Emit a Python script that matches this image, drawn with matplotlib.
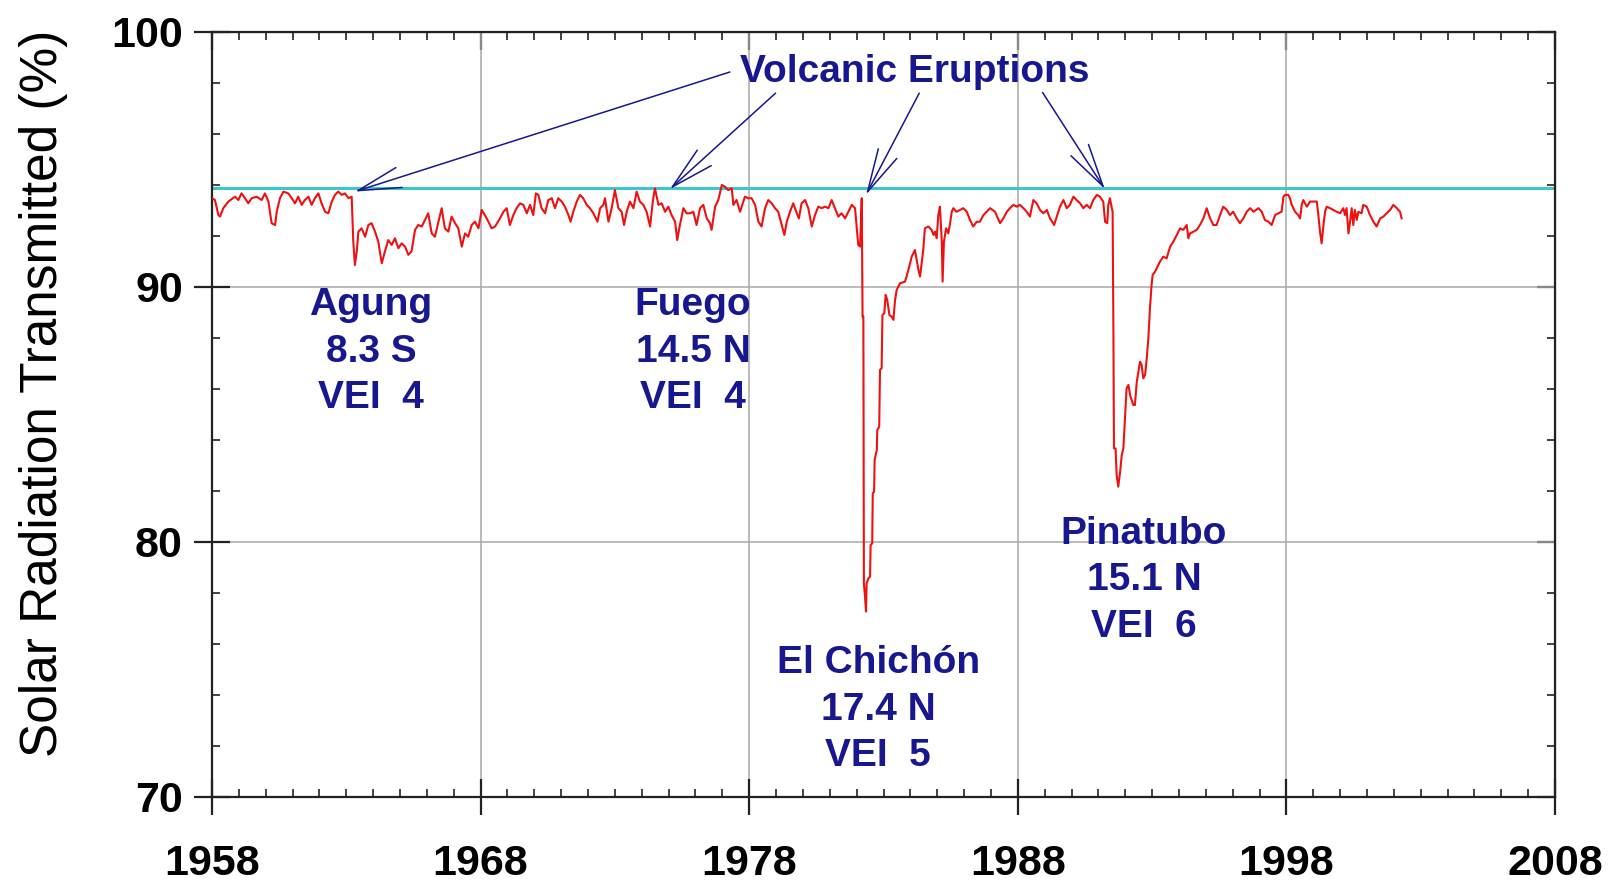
import numpy as np
import matplotlib
matplotlib.use("Agg")
import matplotlib.pyplot as plt
from matplotlib.ticker import MultipleLocator

plt.rcParams['font.family'] = ['Liberation Sans', 'DejaVu Sans']

# transmission record (%) in pieces
yr_1958 = [1958.01, 1958.11, 1958.24, 1958.30, 1958.42, 1958.61, 1958.86, 1958.98, 1959.10, 1959.23,
           1959.35, 1959.48, 1959.66, 1959.85, 1959.97, 1960.10, 1960.22, 1960.35, 1960.41, 1960.53,
           1960.66, 1960.84, 1960.97, 1961.09, 1961.21, 1961.34, 1961.46, 1961.59, 1961.71, 1961.83,
           1961.96, 1962.08, 1962.21, 1962.33, 1962.46, 1962.58, 1962.70, 1962.83, 1962.95, 1963.08,
           1963.20]
tr_1958 = [93.48, 93.41, 92.82, 92.76, 93.09, 93.35, 93.54, 93.41, 93.67, 93.48,
           93.28, 93.48, 93.54, 93.41, 93.67, 93.35, 92.50, 92.43, 92.95, 93.48,
           93.74, 93.67, 93.48, 93.28, 93.54, 93.22, 93.41, 93.54, 93.22, 93.48,
           93.67, 93.28, 92.95, 92.89, 93.35, 93.61, 93.74, 93.61, 93.67, 93.48,
           93.54]

yr_agung = [1963.26, 1963.32, 1963.39, 1963.45, 1963.57, 1963.70, 1963.82, 1963.94, 1964.07, 1964.19,
            1964.32, 1964.44, 1964.56, 1964.69, 1964.81, 1964.94, 1965.06, 1965.19, 1965.31, 1965.43,
            1965.56, 1965.68, 1965.81, 1965.93, 1966.05, 1966.18, 1966.30, 1966.43, 1966.55, 1966.67,
            1966.80, 1966.92, 1967.05, 1967.17, 1967.30, 1967.42, 1967.54, 1967.67, 1967.79, 1967.92]
tr_agung = [91.78, 90.86, 91.40, 92.17, 92.30, 91.97, 92.43, 92.50, 92.17, 91.78,
            90.93, 91.40, 91.84, 91.65, 91.91, 91.52, 91.71, 91.58, 91.26, 91.40,
            92.24, 92.43, 92.37, 92.63, 92.89, 92.10, 91.97, 92.56, 93.09, 92.30,
            92.17, 92.76, 92.50, 92.30, 91.58, 92.10, 91.97, 92.43, 92.56, 92.30]

yr_1968 = [1968.04, 1968.16, 1968.29, 1968.41, 1968.54, 1968.72, 1968.85, 1968.97, 1969.09, 1969.22,
           1969.34, 1969.47, 1969.59, 1969.72, 1969.84, 1969.96, 1970.06, 1970.15, 1970.27, 1970.40,
           1970.52, 1970.65, 1970.77, 1970.89, 1971.02, 1971.14, 1971.27, 1971.35, 1971.45, 1971.58,
           1971.70, 1971.82, 1971.95, 1972.07, 1972.20, 1972.35, 1972.45, 1972.57, 1972.63, 1972.76,
           1972.88, 1973.00, 1973.13, 1973.25, 1973.34, 1973.44, 1973.56, 1973.69, 1973.81, 1973.93,
           1974.06, 1974.18, 1974.31, 1974.41, 1974.49, 1974.62, 1974.74, 1974.87, 1974.99, 1975.11,
           1975.24, 1975.32, 1975.42, 1975.55, 1975.67, 1975.80, 1975.92, 1976.04, 1976.17, 1976.29,
           1976.42, 1976.54, 1976.60, 1976.73, 1976.85, 1976.98, 1977.10, 1977.22, 1977.35]
tr_1968 = [93.02, 92.82, 92.56, 92.30, 92.37, 92.69, 92.95, 93.09, 92.43, 92.82,
           93.09, 93.28, 93.22, 92.89, 93.22, 92.82, 93.67, 93.61, 93.09, 92.89,
           93.41, 93.48, 93.09, 93.48, 93.35, 93.15, 92.82, 92.56, 92.95, 93.35,
           93.61, 93.48, 93.22, 93.09, 92.89, 92.56, 93.09, 93.22, 93.48, 92.56,
           93.09, 93.80, 93.09, 92.95, 92.43, 92.95, 93.35, 93.09, 93.74, 93.35,
           93.22, 92.95, 92.37, 93.35, 93.87, 93.22, 93.28, 92.95, 93.15, 92.82,
           92.56, 91.84, 92.43, 93.09, 92.89, 92.89, 92.95, 92.43, 93.09, 93.22,
           92.69, 92.50, 92.24, 93.15, 93.41, 94.00, 93.93, 93.80, 93.87]

yr_1977 = [1977.41, 1977.53, 1977.66, 1977.84, 1977.97, 1978.09, 1978.22, 1978.34, 1978.46, 1978.59,
           1978.71, 1978.84, 1978.96, 1979.08, 1979.21, 1979.31, 1979.40, 1979.52, 1979.64, 1979.77,
           1979.85, 1979.95, 1980.08, 1980.20, 1980.33, 1980.45, 1980.57, 1980.70, 1980.82, 1980.95,
           1981.07, 1981.19, 1981.32, 1981.44, 1981.57, 1981.69, 1981.82, 1981.94, 1982.00, 1982.06,
           1982.13, 1982.19]
tr_1977 = [93.22, 93.41, 92.95, 93.54, 93.48, 93.48, 93.22, 92.56, 92.37, 93.09,
           93.41, 93.28, 93.09, 92.95, 92.43, 92.04, 92.56, 92.95, 93.28, 92.89,
           92.69, 93.28, 93.41, 93.09, 92.37, 92.82, 93.15, 93.09, 93.15, 93.09,
           93.41, 93.09, 92.76, 92.89, 92.69, 92.95, 93.22, 93.09, 92.37, 91.65,
           91.58, 93.48]

yr_chichon = [1982.22, 1982.25, 1982.27, 1982.31, 1982.35, 1982.37, 1982.44, 1982.50, 1982.52, 1982.58,
              1982.60, 1982.65, 1982.67, 1982.75, 1982.77, 1982.84, 1982.87, 1982.93, 1982.96, 1983.03,
              1983.08, 1983.14, 1983.22, 1983.30, 1983.37, 1983.43, 1983.49, 1983.61, 1983.80, 1983.86,
              1983.99, 1984.05, 1984.17, 1984.30, 1984.36, 1984.42, 1984.48]
tr_chichon = [88.84, 88.84, 78.38, 77.86, 77.27, 78.38, 78.58, 78.64, 79.88, 79.95,
              81.91, 81.97, 83.22, 83.61, 84.39, 84.52, 86.75, 86.81, 88.90, 88.97,
              89.69, 89.49, 88.90, 88.84, 88.71, 89.49, 89.88, 90.14, 90.21, 90.41,
              90.93, 91.19, 91.45, 90.67, 90.41, 90.93, 91.45]

yr_1984 = [1984.54, 1984.67, 1984.79, 1984.86, 1984.92, 1984.98, 1985.04, 1985.10, 1985.17, 1985.20,
           1985.25, 1985.33, 1985.41, 1985.48, 1985.54, 1985.60, 1985.72, 1985.85, 1985.97, 1986.10,
           1986.22, 1986.34, 1986.47, 1986.59, 1986.72, 1986.84, 1986.97]
tr_1984 = [92.30, 92.37, 92.24, 92.04, 92.17, 91.91, 92.82, 93.15, 91.78, 90.21,
           91.78, 92.30, 92.10, 92.50, 92.95, 93.09, 92.95, 93.02, 93.09, 92.95,
           92.63, 92.37, 92.56, 92.56, 92.82, 92.95, 93.09]

yr_1987 = [1987.15, 1987.34, 1987.46, 1987.59, 1987.71, 1987.83, 1987.96, 1988.08, 1988.21, 1988.33,
           1988.45, 1988.58, 1988.70, 1988.83, 1988.95, 1989.08, 1989.20, 1989.35, 1989.45, 1989.57,
           1989.70, 1989.82, 1989.94, 1990.07, 1990.19, 1990.32, 1990.44, 1990.56, 1990.69, 1990.81,
           1990.94, 1991.06, 1991.18, 1991.25, 1991.33, 1991.37, 1991.43, 1991.50, 1991.53]
tr_1987 = [92.95, 92.50, 92.69, 92.95, 93.09, 93.22, 93.15, 93.22, 93.09, 92.95,
           92.76, 93.41, 93.28, 93.02, 92.89, 93.02, 92.69, 92.43, 92.76, 93.15,
           93.41, 93.09, 93.22, 93.54, 93.41, 93.28, 93.09, 93.22, 93.09, 93.41,
           93.61, 93.54, 93.35, 92.56, 92.50, 93.22, 93.48, 93.09, 92.95]

yr_pinatubo = [1991.56, 1991.58, 1991.64, 1991.68, 1991.74, 1991.81, 1991.87, 1991.93, 1991.99, 1992.05,
               1992.12, 1992.18, 1992.30, 1992.36, 1992.43, 1992.49, 1992.55, 1992.61, 1992.67, 1992.74,
               1992.80, 1992.86, 1992.92, 1992.98, 1993.02, 1993.11, 1993.17, 1993.29, 1993.42, 1993.54,
               1993.67, 1993.79, 1993.92, 1994.04, 1994.16, 1994.29, 1994.35, 1994.41, 1994.54, 1994.66,
               1994.78, 1994.91, 1995.03, 1995.16, 1995.28, 1995.40, 1995.53, 1995.65, 1995.78, 1995.90,
               1996.02, 1996.15, 1996.27, 1996.40, 1996.52, 1996.65, 1996.77]
tr_pinatubo = [88.12, 83.67, 83.67, 82.63, 82.17, 82.76, 83.41, 83.67, 84.85, 86.03,
               86.16, 85.76, 85.37, 85.37, 86.29, 86.68, 87.07, 86.94, 86.42, 86.55,
               87.20, 87.99, 89.16, 90.08, 90.47, 90.60, 90.73, 90.99, 91.19, 91.12,
               91.58, 91.78, 92.04, 92.30, 92.24, 92.43, 91.91, 92.10, 92.17, 92.24,
               92.43, 92.69, 93.09, 92.69, 92.43, 92.43, 92.82, 93.15, 93.02, 92.82,
               92.95, 92.69, 92.50, 92.69, 92.95, 93.09, 92.95]

yr_1997 = [1996.96, 1997.08, 1997.20, 1997.33, 1997.45, 1997.58, 1997.70, 1997.82, 1997.89, 1997.95,
           1998.07, 1998.13, 1998.20, 1998.32, 1998.44, 1998.51, 1998.57, 1998.63, 1998.76, 1998.88,
           1999.00, 1999.13, 1999.19, 1999.25, 1999.31, 1999.38, 1999.44, 1999.50, 1999.62, 1999.75,
           1999.87, 2000.00, 2000.12, 2000.18, 2000.24, 2000.31, 2000.37, 2000.43, 2000.49, 2000.55,
           2000.62, 2000.68, 2000.80, 2000.86, 2000.99, 2001.11, 2001.24, 2001.36, 2001.49, 2001.61,
           2001.73, 2001.86, 2001.98, 2002.11, 2002.23, 2002.29]
tr_1997 = [93.09, 92.95, 92.63, 92.56, 92.43, 92.82, 92.89, 92.95, 93.54, 93.61,
           93.61, 93.48, 93.22, 92.95, 92.82, 92.69, 93.22, 93.41, 93.15, 93.35,
           93.35, 93.35, 92.82, 92.17, 91.71, 92.43, 92.95, 93.15, 93.09, 93.02,
           92.95, 92.89, 93.09, 92.82, 93.09, 92.10, 92.56, 93.09, 92.43, 93.02,
           92.63, 92.95, 92.89, 93.22, 93.15, 92.82, 92.56, 92.37, 92.69, 92.76,
           92.89, 93.02, 93.22, 93.09, 92.95, 92.69]

clear_level = 93.9

x_ticks = [1958, 1968, 1978, 1988, 1998, 2008]
y_ticks = [70, 80, 90, 100]

volcano_names = ['Agung', 'Fuego', 'El Chichón', 'Pinatubo']
volcano_lats = ['8.3 S', '14.5 N', '17.4 N', '15.1 N']
volcano_vei = ['4', '4', '5', '6']

# label/arrow placement (data coords)
label_x = [1963.92, 1975.91, 1982.8, 1992.7]
label_y0 = [88.90, 88.90, 74.86, 79.94]
line_step = 1.824
arrow_tip = [(1963.32, 93.74), (1975.05, 93.84), (1982.35, 93.62), (1991.24, 93.84)]
arrow_tail = [(1977.28, 98.43), (1978.98, 97.60), (1984.33, 97.60), (1988.92, 97.63)]

years = np.concatenate([yr_1958, yr_agung, yr_1968, yr_1977, yr_chichon,
                        yr_1984, yr_1987, yr_pinatubo, yr_1997])
trans = np.concatenate([tr_1958, tr_agung, tr_1968, tr_1977, tr_chichon,
                        tr_1984, tr_1987, tr_pinatubo, tr_1997])

NAVY = '#17178f'

fig = plt.figure(figsize=(16.22, 8.83), dpi=100)
ax = fig.add_axes([0.1307, 0.0974, 0.8280, 0.8664])

ax.axhline(clear_level, color='#3cc8c8', lw=2.2, zorder=2)
ax.plot(years, trans, color='#ee1111', lw=1.5, zorder=3)

ax.set_xlim(1958, 2008)
ax.set_ylim(70, 100)
ax.set_xticks(x_ticks)
ax.set_yticks(y_ticks)
ax.set_xticklabels([str(t) for t in x_ticks], fontweight='bold')
ax.set_yticklabels([str(t) for t in y_ticks], fontweight='bold')
ax.xaxis.set_minor_locator(MultipleLocator(1))
ax.yaxis.set_minor_locator(MultipleLocator(2))
ax.grid(True, which='major', color='#a8a8a8', lw=1.1, zorder=1)
ax.tick_params(which='major', direction='inout', length=26, width=1.6, labelsize=31, color='#222222')
ax.tick_params(axis='x', which='major', pad=21)
ax.tick_params(axis='y', which='major', pad=8)
ax.tick_params(which='minor', direction='in', length=6, width=1.2, color='#222222')
for s in ax.spines.values():
    s.set_linewidth(1.6)
    s.set_color('#222222')

# top / right ticks point inward only
top = ax.secondary_xaxis('top')
top.set_xticks(x_ticks)
top.xaxis.set_minor_locator(MultipleLocator(1))
top.tick_params(which='major', direction='in', length=13, width=1.6, labeltop=False, color='#222222')
top.tick_params(which='minor', direction='in', length=6, width=1.2, color='#222222')
right = ax.secondary_yaxis('right')
right.set_yticks(y_ticks)
right.yaxis.set_minor_locator(MultipleLocator(2))
right.tick_params(which='major', direction='in', length=13, width=1.6, labelright=False, color='#222222')
right.tick_params(which='minor', direction='in', length=6, width=1.2, color='#222222')

fig.text(44 / 1622, 1 - 393 / 883, 'Solar Radiation Transmitted (%)', rotation=90,
         ha='center', va='center', fontsize=37)

ax.text(1984.17, 98.04, 'Volcanic Eruptions', color=NAVY, fontsize=28, fontweight='bold',
        ha='center', va='baseline')
for tip, tail in zip(arrow_tip, arrow_tail):
    ax.annotate('', xy=tip, xytext=tail,
                arrowprops=dict(arrowstyle='->,head_length=31,head_width=7.5', mutation_scale=1,
                                color=NAVY, lw=1.1, shrinkA=0, shrinkB=0))

for name, lat, vei, x, y0 in zip(volcano_names, volcano_lats, volcano_vei, label_x, label_y0):
    for i, line in enumerate([name, lat, 'VEI  ' + vei]):
        ax.text(x, y0 - i * line_step, line, color=NAVY, fontsize=28, fontweight='bold',
                ha='center', va='baseline')

fig.savefig('out.png', dpi=100, facecolor='white')
